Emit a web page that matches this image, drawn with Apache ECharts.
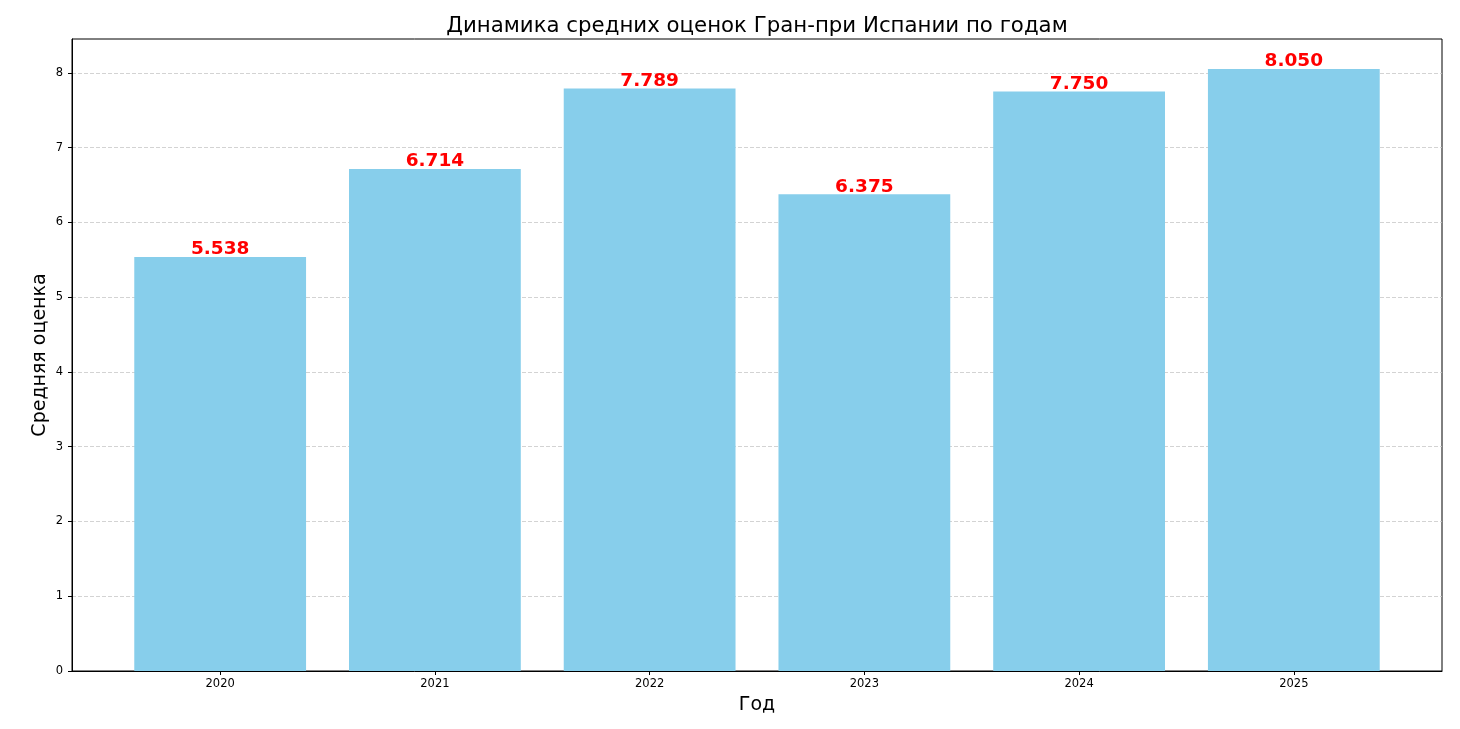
<!DOCTYPE html>
<html><head><meta charset="utf-8">
<script src="https://cdn.jsdelivr.net/npm/echarts@6/dist/echarts.min.js"></script>
<style>html,body{margin:0;padding:0;background:#fff}#c{width:1460px;height:729px}</style>
</head><body><div id="c"></div>
<script>
const years = ['2020','2021','2022','2023','2024','2025'];
const avgScores = [5.538, 6.714, 7.789, 6.375, 7.750, 8.050];
const yTicks = [0,1,2,3,4,5,6,7,8];

const FONT = 'DejaVu Sans';
const chart = echarts.init(document.getElementById('c'), null, {renderer:'canvas'});
const xPos = years.map((_, i) => i);
const yMax = Math.max(...avgScores) * 1.05;
const xMin = -0.4 - 0.05 * (years.length - 1 + 0.8);
const xMax = years.length - 1 + 0.4 + 0.05 * (years.length - 1 + 0.8);
const gridLeft = 72, gridRight = 1460 - 1442, gridTop = 39, gridBottom = 729 - 671;
const plotW = 1442 - 72;
const barW = 0.8 * plotW / (xMax - xMin);

chart.setOption({
  animation: false,
  backgroundColor: '#fff',
  title: {
    text: 'Динамика средних оценок Гран-при Испании по годам',
    left: 752, textAlign: 'center', top: 11,
    textStyle: {fontFamily: FONT, fontSize: 21.3, fontWeight: 'normal', color: '#000'}
  },
  grid: {left: gridLeft, right: gridRight, top: gridTop, bottom: gridBottom,
         show: true, borderColor: '#000', borderWidth: 1, backgroundColor: 'transparent'},
  xAxis: {
    type: 'value', min: xMin, max: xMax,
    name: 'Год', nameLocation: 'middle', nameGap: 25,
    nameTextStyle: {fontFamily: FONT, fontSize: 19, color: '#000'},
    axisLine: {show: true, onZero: false, lineStyle: {color: '#000', width: 1}},
    axisTick: {show: true, customValues: xPos, length: 4, lineStyle: {color: '#000'}},
    axisLabel: {customValues: xPos, formatter: v => years[Math.round(v)], fontFamily: FONT, fontSize: 11.5, color: '#000', margin: 7},
    splitLine: {show: false}
  },
  yAxis: {
    type: 'value', min: 0, max: yMax,
    name: 'Средняя оценка', nameLocation: 'middle', nameGap: 22, nameRotate: 90,
    nameMoveOverlap: false,
    nameTextStyle: {fontFamily: FONT, fontSize: 19, color: '#000'},
    axisLine: {show: true, onZero: false, lineStyle: {color: '#000', width: 1}},
    axisTick: {show: true, customValues: yTicks, length: 4, lineStyle: {color: '#000'}},
    axisLabel: {customValues: yTicks, fontFamily: FONT, fontSize: 11.5, color: '#000', margin: 9},
    splitLine: {show: true, lineStyle: {color: '#c8c8c8', type: [4, 2], width: 0.8}}
  },
  series: [{
    type: 'bar',
    data: avgScores.map((v, i) => [xPos[i], v]),
    barWidth: barW,
    itemStyle: {color: '#87CEEB'},
    label: {show: true, position: 'top', distance: -2, formatter: p => p.value[1].toFixed(3),
            fontFamily: FONT, fontSize: 18.5, fontWeight: 'bold', color: '#ff0000'}
  }]
});
</script></body></html>
